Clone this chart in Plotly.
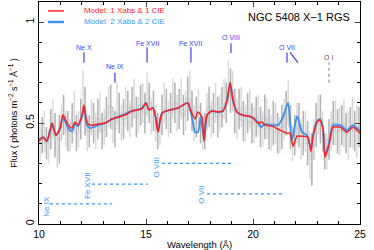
import plotly.graph_objects as go

# ---- data ----
model1_wl = [10.00,10.19,10.37,10.61,10.79,10.98,11.12,11.36,11.54,11.68,11.82,12.01,12.10,12.24,12.38,12.76,13.08,13.41,13.69,14.02,14.35,14.58,14.81,15.00,15.14,15.33,15.47,15.56,15.75,16.12,16.50,16.73,16.96,17.06,17.29,17.43,17.62,17.71,17.85,18.08,18.36,18.60,18.79,18.93,19.07,19.25,19.49,19.95,20.23,20.42,20.56,20.89,21.26,21.59,21.73,21.87,22.06,22.34,22.57,22.71,22.80,22.99,23.13,23.27,23.36,23.55,23.74,24.07,24.39,24.67,24.91,25.00]
model1_flux = [0.41,0.43,0.41,0.50,0.44,0.475,0.54,0.49,0.475,0.505,0.49,0.54,0.59,0.505,0.49,0.495,0.50,0.52,0.53,0.54,0.56,0.565,0.57,0.60,0.565,0.575,0.515,0.455,0.55,0.565,0.575,0.59,0.60,0.57,0.52,0.555,0.53,0.41,0.54,0.56,0.555,0.56,0.614,0.70,0.61,0.555,0.54,0.53,0.50,0.505,0.49,0.485,0.465,0.45,0.45,0.385,0.435,0.435,0.43,0.36,0.43,0.505,0.515,0.47,0.33,0.39,0.48,0.48,0.455,0.48,0.46,0.45]

model2_wl = [10.00,10.19,10.37,10.61,10.79,10.98,11.12,11.36,11.54,11.68,11.82,12.01,12.10,12.24,12.38,12.76,13.08,13.41,13.69,14.02,14.35,14.58,14.81,15.00,15.14,15.33,15.47,15.56,15.75,16.12,16.50,16.73,16.96,17.06,17.20,17.29,17.43,17.55,17.71,17.85,18.08,18.36,18.60,18.79,18.93,19.07,19.25,19.49,19.95,20.23,20.38,20.56,20.89,21.17,21.40,21.64,21.82,22.06,22.29,22.52,22.71,22.80,22.99,23.13,23.27,23.36,23.55,23.74,24.07,24.39,24.67,24.91,25.00]
model2_flux = [0.42,0.43,0.41,0.49,0.44,0.47,0.53,0.475,0.46,0.495,0.485,0.53,0.58,0.49,0.475,0.49,0.50,0.52,0.53,0.545,0.56,0.565,0.575,0.60,0.565,0.575,0.52,0.46,0.55,0.565,0.575,0.59,0.60,0.57,0.50,0.455,0.455,0.53,0.42,0.54,0.56,0.555,0.56,0.614,0.70,0.61,0.555,0.54,0.53,0.505,0.48,0.495,0.49,0.49,0.53,0.60,0.415,0.535,0.455,0.44,0.37,0.44,0.51,0.52,0.475,0.34,0.40,0.49,0.49,0.465,0.49,0.47,0.465]

rgs_a_wl = [10.05,10.25,10.45,10.65,10.85,11.05,11.25,11.45,11.65,11.85,12.05,12.25,12.45,12.65,12.85,13.05,13.25,13.45,13.65,13.85,14.05,14.25,14.45,14.65,14.85,15.05,15.25,15.45,15.65,15.85,16.05,16.25,16.45,16.65,16.85,17.05,17.25,17.45,17.65,17.85,18.05,18.25,18.45,18.65,18.85,19.05,19.25,19.45,19.65,19.85,20.05,20.25,20.45,20.65,20.85,21.05,21.25,21.45,21.65,21.85,22.05,22.25,22.45,22.65,22.85,23.05,23.25,23.45,23.65,23.85,24.05,24.25,24.45,24.65,24.85]
rgs_a_flux = [0.40,0.46,0.38,0.52,0.36,0.50,0.47,0.44,0.56,0.47,0.66,0.44,0.53,0.46,0.55,0.48,0.58,0.49,0.60,0.50,0.58,0.52,0.62,0.54,0.60,0.64,0.53,0.50,0.46,0.60,0.52,0.62,0.55,0.62,0.56,0.66,0.50,0.58,0.45,0.56,0.52,0.60,0.55,0.62,0.70,0.66,0.52,0.58,0.50,0.57,0.49,0.54,0.47,0.52,0.45,0.50,0.44,0.52,0.60,0.40,0.50,0.42,0.46,0.34,0.42,0.54,0.46,0.36,0.46,0.50,0.46,0.50,0.44,0.50,0.46]
rgs_a_err = [0.09,0.10,0.08,0.10,0.08,0.09,0.09,0.08,0.10,0.09,0.10,0.08,0.09,0.09,0.10,0.09,0.10,0.09,0.10,0.09,0.10,0.09,0.10,0.09,0.10,0.11,0.09,0.09,0.07,0.10,0.09,0.10,0.09,0.10,0.10,0.10,0.09,0.09,0.08,0.09,0.09,0.10,0.09,0.10,0.11,0.10,0.10,0.10,0.09,0.10,0.09,0.10,0.09,0.10,0.09,0.10,0.09,0.10,0.11,0.09,0.10,0.10,0.10,0.12,0.10,0.10,0.10,0.09,0.10,0.11,0.12,0.12,0.12,0.13,0.13]

rgs_b_wl = [10.15,10.35,10.55,10.75,10.95,11.15,11.35,11.55,11.75,11.95,12.15,12.35,12.55,12.75,12.95,13.15,13.35,13.55,13.75,13.95,14.15,14.35,14.55,14.75,14.95,15.15,15.35,15.55,15.75,15.95,16.15,16.35,16.55,16.75,16.95,17.15,17.35,17.55,17.75,17.95,18.15,18.35,18.55,18.75,18.95,19.15,19.35,19.55,19.75,19.95,20.15,20.35,20.55,20.75,20.95,21.15,21.35,21.55,21.75,21.95,22.15,22.35,22.55,22.75,22.95,23.15,23.35,23.55,23.75,23.95,24.15,24.35,24.55,24.75,24.95]
rgs_b_flux = [0.44,0.40,0.47,0.44,0.42,0.54,0.46,0.50,0.45,0.52,0.56,0.46,0.50,0.52,0.46,0.53,0.58,0.47,0.55,0.52,0.56,0.58,0.53,0.59,0.55,0.60,0.56,0.46,0.54,0.57,0.55,0.60,0.57,0.54,0.62,0.56,0.53,0.50,0.46,0.58,0.55,0.53,0.58,0.60,0.66,0.56,0.57,0.51,0.55,0.50,0.53,0.48,0.53,0.47,0.50,0.45,0.48,0.55,0.48,0.44,0.49,0.45,0.40,0.32,0.49,0.52,0.36,0.42,0.50,0.46,0.49,0.45,0.48,0.46,0.48]
rgs_b_err = [0.09,0.08,0.10,0.11,0.12,0.10,0.10,0.10,0.09,0.10,0.12,0.08,0.10,0.10,0.09,0.10,0.11,0.09,0.10,0.10,0.10,0.10,0.10,0.10,0.10,0.10,0.10,0.09,0.10,0.10,0.10,0.10,0.10,0.10,0.11,0.10,0.10,0.10,0.09,0.10,0.10,0.10,0.10,0.10,0.11,0.11,0.10,0.10,0.10,0.10,0.10,0.10,0.11,0.10,0.11,0.10,0.11,0.11,0.11,0.10,0.11,0.11,0.11,0.13,0.11,0.12,0.09,0.10,0.11,0.11,0.10,0.10,0.10,0.10,0.10]

# line identifications (top)
top_labels = ["Ne X", "Ne IX", "Fe XVII", "Fe XVII", "O VIII", "O VII"]
top_wl = [12.10, 13.55, 15.05, 17.10, 18.97, 21.59]
top_text_y = [0.876, 0.78, 0.895, 0.895, 0.925, 0.876]
top_line_y0 = [0.80, 0.70, 0.80, 0.80, 0.847, 0.80]
top_line_y1 = [0.85, 0.75, 0.876, 0.876, 0.896, 0.85]

# velocity-range markers (bottom)
low_labels = ["Ne IX", "Fe XVII", "O VIII", "O VII"]
low_text_x = [10.37, 12.24, 15.51, 17.62]
low_text_y = [0.09, 0.193, 0.28, 0.145]
low_x0 = [10.51, 12.48, 15.75, 17.85]
low_x1 = [13.41, 15.09, 19.0, 21.5]
low_y = [0.10, 0.198, 0.30, 0.149]

RED = "#ff2020"
BLUE = "#3a8ff0"
LBLUE = "#3399ff"
VIOLET = "#3c3cff"
FONT = "Liberation Sans"

fig = go.Figure()
for wl, fl, er, col in [(rgs_a_wl, rgs_a_flux, rgs_a_err, "#d9d9d9"),
                        (rgs_b_wl, rgs_b_flux, rgs_b_err, "#b0b0b0")]:
    fig.add_trace(go.Scatter(x=wl, y=fl, mode="lines", line=dict(color=col, width=0.5, shape="hvh"),
                             error_y=dict(type="data", array=er, width=0, thickness=1.5, color=col),
                             showlegend=False, hoverinfo="skip"))
fig.add_trace(go.Scatter(x=model2_wl, y=model2_flux, mode="lines", line=dict(color=BLUE, width=1.8, shape="spline", smoothing=0.6),
                         showlegend=False))
fig.add_trace(go.Scatter(x=model1_wl, y=model1_flux, mode="lines", line=dict(color=RED, width=1.5, shape="spline", smoothing=0.6),
                         showlegend=False))

shapes = []
ann = []
for lab, x, ty, y0, y1 in zip(top_labels, top_wl, top_text_y, top_line_y0, top_line_y1):
    ann.append(dict(x=x, y=ty, text=lab, showarrow=False, font=dict(size=7, color=VIOLET, family=FONT)))
    shapes.append(dict(type="line", x0=x, x1=x, y0=y0, y1=y1, line=dict(color=VIOLET, width=1.2)))
# diagonal O VII mark
shapes.append(dict(type="line", x0=21.73, x1=22.10, y0=0.85, y1=0.80, line=dict(color=VIOLET, width=1.2)))
# O I
ann.append(dict(x=23.55, y=0.827, text="O I", showarrow=False, font=dict(size=7, color="#555555", family=FONT)))
shapes.append(dict(type="line", x0=23.55, x1=23.55, y0=0.70, y1=0.80, line=dict(color="#777777", width=1, dash="dot")))

for lab, tx, ty, x0, x1, y in zip(low_labels, low_text_x, low_text_y, low_x0, low_x1, low_y):
    ann.append(dict(x=tx, y=ty, text=lab, textangle=-90, showarrow=False, font=dict(size=8, color=LBLUE, family=FONT)))
    shapes.append(dict(type="line", x0=x0, x1=x1, y0=y, y1=y, line=dict(color=LBLUE, width=1.3, dash="dot")))

# legend (manual)
shapes.append(dict(type="line", xref="paper", yref="paper", x0=0.028, x1=0.078, y0=0.96, y1=0.96, line=dict(color=RED, width=1.5)))
shapes.append(dict(type="line", xref="paper", yref="paper", x0=0.028, x1=0.078, y0=0.91, y1=0.91, line=dict(color=BLUE, width=2.5)))
ann.append(dict(xref="paper", yref="paper", x=0.135, y=0.96, xanchor="left", yanchor="middle", showarrow=False,
                text="Model: 1 Xabs & 1 CIE", font=dict(size=8, color=RED, family=FONT)))
ann.append(dict(xref="paper", yref="paper", x=0.135, y=0.91, xanchor="left", yanchor="middle", showarrow=False,
                text="Model: 2 Xabs & 2 CIE", font=dict(size=8, color=LBLUE, family=FONT)))
# title
ann.append(dict(xref="paper", yref="paper", x=0.975, y=0.932, xanchor="right", yanchor="middle", showarrow=False,
                text="NGC 5408 X\u22121 RGS", font=dict(size=11, color="black", family=FONT)))

fig.update_layout(
    width=374, height=250, margin=dict(l=39, r=14, t=2, b=26, autoexpand=False),
    plot_bgcolor="white", paper_bgcolor="white",
    font=dict(family=FONT, size=10, color="black"),
    shapes=shapes, annotations=ann, showlegend=False,
)
fig.update_xaxes(range=[10, 25], tickvals=[10, 15, 20, 25], ticks="inside", ticklen=5, tickwidth=1,
                 minor=dict(dtick=1, ticks="inside", ticklen=3, tickcolor="black"),
                 showline=True, linecolor="black", linewidth=1.2, mirror="allticks", showgrid=False, zeroline=False,
                 title=dict(text="Wavelength (\u00c5)", font=dict(size=9.5), standoff=4), tickfont=dict(size=10.5))
fig.update_yaxes(range=[0, 1.1], tickvals=[0, 0.5, 1], ticktext=["0", "0.5", "1"], ticks="inside", ticklen=5, tickwidth=1,
                 minor=dict(dtick=0.1, ticks="inside", ticklen=3, tickcolor="black"),
                 showline=True, linecolor="black", linewidth=1.2, mirror="allticks", showgrid=False, zeroline=False,
                 tickangle=-90, tickfont=dict(size=10.5),
                 title=dict(text="Flux ( photons m<sup>\u22122</sup> s<sup>\u22121</sup> \u00c5<sup>\u22121</sup> )", font=dict(size=9), standoff=4))

fig.write_html("out.html", config={"displayModeBar": False, "staticPlot": True},
               post_script="document.body.style.margin='0';")
